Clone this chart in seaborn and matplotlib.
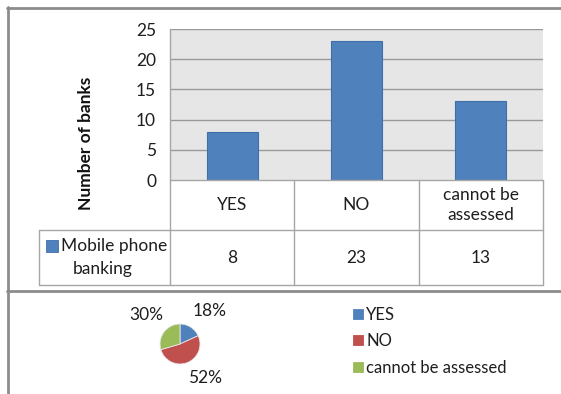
import matplotlib
matplotlib.use("Agg")
import matplotlib.pyplot as plt
import seaborn as sns
import pandas as pd
from matplotlib.lines import Line2D
from matplotlib.patches import Rectangle

# Survey answers: does the bank offer mobile phone banking?
categories = ["YES", "NO", "cannot be assessed"]
category_labels = ["YES", "NO", "cannot be\nassessed"]
counts = [8, 23, 13]
series_lines = ["Mobile phone", "banking"]
y_ticks = [0, 5, 10, 15, 20, 25]
pie_colors = ["#4F81BD", "#C0504D", "#9BBB59"]

sns.set_theme(style="white")
plt.rcParams["font.family"] = ["Lato", "DejaVu Sans"]

W, H = 561, 394
FS = 12.5
TXT = "#1E1E1E"
fig = plt.figure(figsize=(W / 100, H / 100), dpi=100)
fig.patch.set_facecolor("white")


def fx(px):
    return px / W


def fy(py):
    return 1 - py / H


def hline(x0, x1, y, color, lw=1.0):
    fig.add_artist(Line2D([fx(x0), fx(x1)], [fy(y), fy(y)], color=color, lw=lw,
                          transform=fig.transFigure))


def vline(x, y0, y1, color, lw=1.0):
    fig.add_artist(Line2D([fx(x), fx(x)], [fy(y0), fy(y1)], color=color, lw=lw,
                          transform=fig.transFigure))


def square(x, ycenter, size, color, edge):
    fig.add_artist(Rectangle((fx(x), fy(ycenter + size / 2)), fx(size), size / H,
                             facecolor=color, edgecolor=edge, lw=0.6,
                             transform=fig.transFigure))


# Outer frames
frame = "#8C8C8C"
hline(7, 561, 8, frame, 2)
hline(7, 561, 291, frame, 2)
vline(7.5, 7, 394, frame, 2)

# ---- Column chart with data table ----
left, right, top, bottom = 170, 543, 29, 180
ax = fig.add_axes([fx(left), fy(bottom), fx(right - left), (bottom - top) / H])
df = pd.DataFrame({"answer": categories, "banks": counts})
sns.barplot(data=df, x="answer", y="banks", order=categories, color="#4F81BD",
            width=0.41, edgecolor="#3F6FA8", linewidth=0.8, saturation=1, ax=ax)
ax.set_facecolor("#E6E6E6")
ax.set_xlim(-0.5, len(categories) - 0.5)
ax.set_ylim(0, 25)
ax.set_yticks(y_ticks)
ax.set_yticklabels([str(t) for t in y_ticks], fontsize=FS, color=TXT)
ax.tick_params(axis="y", length=0, pad=10)
ax.set_xticks([])
ax.set_xlabel("")
ax.set_ylabel("")
for t in y_ticks[1:]:
    ax.axhline(t, color="#9A9A9A", lw=1.0, zorder=0.5)
for s in ["top", "right", "bottom"]:
    ax.spines[s].set_visible(False)
ax.spines["left"].set_color("#A6A6A6")
ax.spines["left"].set_linewidth(1.0)

fig.text(fx(86), fy(143), "Number of banks", rotation=90, ha="center", va="center",
         fontsize=12.5, fontweight="bold", color="#111111")

# Data table below the plot area
grid = "#A6A6A6"
row1_bottom, row2_bottom, table_left = 230, 285, 39
col_edges = [left + i * (right - left) / len(categories) for i in range(len(categories) + 1)]
hline(left, right, bottom, grid)
hline(table_left, right, row1_bottom, grid)
hline(table_left, right, row2_bottom, grid)
for x in col_edges:
    vline(x, bottom, row2_bottom, grid)
vline(table_left, row1_bottom, row2_bottom, grid)

xt = ax.get_xaxis_transform()
ax_h = bottom - top
for i, (lab, val) in enumerate(zip(category_labels, counts)):
    ax.text(i, -((row1_bottom - bottom) / 2) / ax_h, lab, transform=xt, ha="center",
            va="center", fontsize=FS, color=TXT, linespacing=1.25, clip_on=False)
    ax.text(i, -((row2_bottom + row1_bottom) / 2 - bottom) / ax_h, str(val), transform=xt,
            ha="center", va="center", fontsize=FS, color=TXT, clip_on=False)

# Series key in the first table cell
square(46, 246, 12, "#4F81BD", "#3F6FA8")
fig.text(fx(61), fy(246), series_lines[0], ha="left", va="center", fontsize=FS, color=TXT)
fig.text(fx(103), fy(269), series_lines[1], ha="center", va="center", fontsize=FS, color=TXT)

# ---- Pie chart of the same counts ----
r = 25
pax = fig.add_axes([fx(180 - r), fy(344 + r), fx(2 * r), 2 * r / H])
pax.pie(counts, colors=pie_colors, startangle=90, counterclock=False,
        radius=1.0, wedgeprops=dict(edgecolor="#E8E8E8", linewidth=0.6))
pax.set_aspect("equal")
total = sum(counts)
pct = [f"{round(100 * c / total):d}%" for c in counts]
label_pos = [(210, 311), (205, 378), (146, 315)]
for (px, py), txt in zip(label_pos, pct):
    fig.text(fx(px), fy(py), txt, ha="center", va="center", fontsize=FS, color=TXT)

legend_y = [315, 341, 368]
for c, lab, y in zip(pie_colors, categories, legend_y):
    square(353, y - 1.5, 10, c, c)
    fig.text(fx(366), fy(y), lab, ha="left", va="center", fontsize=12, color=TXT)

fig.savefig("out.png", dpi=100, facecolor="white")
